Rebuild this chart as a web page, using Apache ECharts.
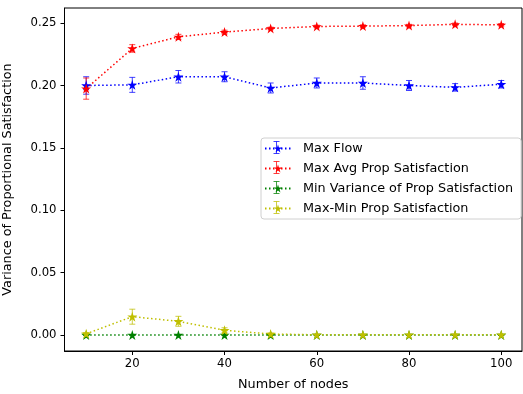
<!DOCTYPE html>
<html>
<head>
<meta charset="utf-8">
<script src="https://cdn.jsdelivr.net/npm/echarts@6/dist/echarts.min.js"></script>
<style>
  html, body { margin: 0; padding: 0; background: #fff; }
  #chart { width: 523px; height: 394px; }
</style>
</head>
<body>
<div id="chart"></div>
<script>
// x values (number of nodes)
const nodes = [10, 20, 30, 40, 50, 60, 70, 80, 90, 100];

// mean values
const maxFlow = [0.200, 0.2005, 0.207, 0.207, 0.198, 0.202, 0.202, 0.200, 0.1985, 0.201];
const maxAvgProp = [0.1975, 0.2297, 0.239, 0.2428, 0.2457, 0.2473, 0.2476, 0.248, 0.249, 0.2486];
const minVarProp = [0.0, 0.0, 0.0, 0.0, 0.0, 0.0, 0.0, 0.0, 0.0, 0.0];
const maxMinProp = [0.001, 0.0147, 0.011, 0.0038, 0.0008, 0.0002, 0.0002, 0.0002, 0.0002, 0.0002];

// error bar half-widths
const maxFlowErr = [0.007, 0.006, 0.005, 0.004, 0.004, 0.004, 0.005, 0.004, 0.003, 0.003];
const maxAvgPropErr = [0.0085, 0.003, 0.002, 0.0015, 0.001, 0.001, 0.001, 0.001, 0.001, 0.001];
const minVarPropErr = [0.0003, 0.0003, 0.0003, 0.0003, 0.0003, 0.0003, 0.0003, 0.0003, 0.0003, 0.0003];
const maxMinPropErr = [0.001, 0.006, 0.004, 0.002, 0.0008, 0.0003, 0.0003, 0.0003, 0.0003, 0.0003];

const xTicks = [20, 40, 60, 80, 100];
const yTicks = [0, 0.05, 0.10, 0.15, 0.20, 0.25];

const seriesDefs = [
  { name: 'Max Flow', values: maxFlow, errs: maxFlowErr, color: '#0000ff' },
  { name: 'Max Avg Prop Satisfaction', values: maxAvgProp, errs: maxAvgPropErr, color: '#ff0000' },
  { name: 'Min Variance of Prop Satisfaction', values: minVarProp, errs: minVarPropErr, color: '#008000' },
  { name: 'Max-Min Prop Satisfaction', values: maxMinProp, errs: maxMinPropErr, color: '#bfbf00' }
];

const star = 'path://M50,0 L61.8,36.2 L100,36.2 L69.1,58.8 L80.9,95.1 L50,72.7 L19.1,95.1 L30.9,58.8 L0,36.2 L38.2,36.2 Z';
const font = 'DejaVu Sans';

const series = [];
seriesDefs.forEach(def => {
  series.push({
    type: 'line',
    name: def.name,
    z: 3,
    data: nodes.map((x, i) => [x, def.values[i]]),
    symbol: star,
    symbolSize: 10,
    showAllSymbol: true,
    itemStyle: { color: def.color },
    lineStyle: { color: def.color, width: 1.5, type: [1.5, 2.5] },
    animation: false
  });
  // error bars (separate name so the legend picks the line series)
  series.push({
    type: 'custom',
    name: def.name + ' (err)',
    z: 2,
    data: nodes.map((x, i) => [x, def.values[i] - def.errs[i], def.values[i] + def.errs[i]]),
    renderItem: (params, api) => {
      const lo = api.coord([api.value(0), api.value(1)]);
      const hi = api.coord([api.value(0), api.value(2)]);
      const cap = 3;
      const style = { stroke: def.color, lineWidth: 1, opacity: 0.75 };
      return {
        type: 'group',
        children: [
          { type: 'line', shape: { x1: lo[0], y1: lo[1], x2: hi[0], y2: hi[1] }, style },
          { type: 'line', shape: { x1: lo[0] - cap, y1: lo[1], x2: lo[0] + cap, y2: lo[1] }, style },
          { type: 'line', shape: { x1: hi[0] - cap, y1: hi[1], x2: hi[0] + cap, y2: hi[1] }, style }
        ]
      };
    },
    silent: true
  });
});

// small error-bar glyphs drawn over the legend icons
const legendIconX = 276.5;
const legendRowY = [147.5, 167.5, 187.5, 207.5];
const legendBars = [];
seriesDefs.forEach((def, i) => {
  const cy = legendRowY[i];
  const style = { stroke: def.color, lineWidth: 1, opacity: 0.75 };
  legendBars.push(
    { type: 'line', z: 100, silent: true, shape: { x1: legendIconX, y1: cy - 6, x2: legendIconX, y2: cy + 6 }, style },
    { type: 'line', z: 100, silent: true, shape: { x1: legendIconX - 3, y1: cy - 6, x2: legendIconX + 3, y2: cy - 6 }, style },
    { type: 'line', z: 100, silent: true, shape: { x1: legendIconX - 3, y1: cy + 6, x2: legendIconX + 3, y2: cy + 6 }, style }
  );
});

const chart = echarts.init(document.getElementById('chart'));
chart.setOption({
  animation: false,
  backgroundColor: '#fff',
  grid: {
    left: 64.5, top: 8, right: 1, bottom: 43,
    outerBoundsMode: 'none',
    containLabel: false,
    show: true, borderColor: '#000', borderWidth: 1
  },
  legend: {
    data: seriesDefs.map(d => d.name),
    orient: 'vertical',
    left: 261,
    top: 138,
    itemWidth: 26,
    itemHeight: 10,
    itemGap: 7,
    padding: [4, 8, 4, 3],
    backgroundColor: '#fff',
    borderColor: '#d0d0d0',
    borderWidth: 1,
    borderRadius: 3,
    textStyle: { fontFamily: font, fontSize: 12.8, color: '#000', padding: [0, 0, 0, 7] }
  },
  graphic: legendBars,
  xAxis: {
    type: 'value',
    min: 5.3,
    max: 104.5,
    name: 'Number of nodes',
    nameLocation: 'middle',
    nameGap: 27,
    nameTextStyle: { fontFamily: font, fontSize: 12.8, color: '#000' },
    axisLine: { onZero: false, lineStyle: { color: '#000' } },
    axisTick: { show: true, customValues: xTicks, length: 4, lineStyle: { color: '#000' } },
    axisLabel: { customValues: xTicks, fontFamily: font, fontSize: 11.7, color: '#000', margin: 7 },
    splitLine: { show: false }
  },
  yAxis: {
    type: 'value',
    min: -0.0128,
    max: 0.2621,
    name: 'Variance of Proportional Satisfaction',
    nameLocation: 'middle',
    nameGap: 50,
    nameTextStyle: { fontFamily: font, fontSize: 12.8, color: '#000' },
    axisLine: { show: true, onZero: false, lineStyle: { color: '#000' } },
    axisTick: { show: true, customValues: yTicks, length: 4, lineStyle: { color: '#000' } },
    axisLabel: {
      customValues: yTicks, fontFamily: font, fontSize: 11.7, color: '#000', margin: 8,
      formatter: v => v.toFixed(2)
    },
    splitLine: { show: false }
  },
  series
});
</script>
</body>
</html>
